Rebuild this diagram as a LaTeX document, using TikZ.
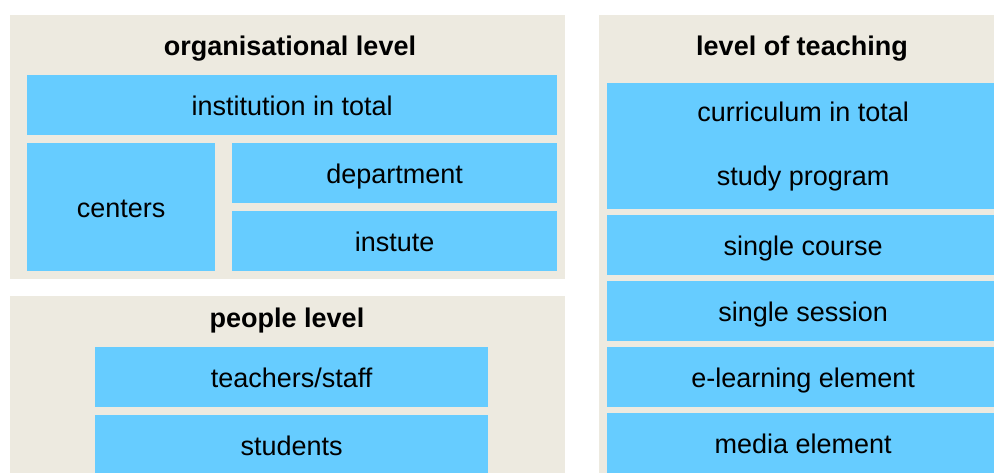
\documentclass[tikz,border=0pt]{standalone}
\usepackage{fontspec}
\setmainfont{Liberation Sans}

\definecolor{panelbg}{RGB}{237,234,224}
\definecolor{boxblue}{RGB}{102,204,255}

\tikzstyle{panel} = [rectangle, fill=panelbg, inner sep=0pt, anchor=north west]
\tikzstyle{unit} = [rectangle, fill=boxblue, inner sep=0pt, anchor=north west, align=center, text height=24pt, text depth=4pt, font=\fontsize{27}{32}\selectfont]
\tikzstyle{heading} = [inner sep=0pt, font=\fontsize{27}{32}\selectfont\bfseries]

\begin{document}
\begin{tikzpicture}[x=1pt, y=-1pt]
        \useasboundingbox (0,0) rectangle (994,473);
        % background panels
        \node (orgpanel) at (10,15) [panel, minimum width=555pt, minimum height=264pt] {};
        \node (peoplepanel) at (10,296) [panel, minimum width=555pt, minimum height=177pt] {};
        \node (teachpanel) at (599,15) [panel, minimum width=408pt, minimum height=458pt] {};
        % panel headings
        \node (orgtitle) at (290,49) [heading] {organisational level};
        \node (peopletitle) at (287,321) [heading] {people level};
        \node (teachtitle) at (802,49) [heading] {level of teaching};
        % organisational level
        \node (inst) at (27,75) [unit, minimum width=530pt, minimum height=60pt] {institution in total};
        \node (centers) at (27,143) [unit, minimum width=188pt, minimum height=128pt] {centers};
        \node (dept) at (232,143) [unit, minimum width=325pt, minimum height=60pt] {department};
        \node (instute) at (232,211) [unit, minimum width=325pt, minimum height=60pt] {instute};
        % people level
        \node (staff) at (95,347) [unit, minimum width=393pt, minimum height=60pt] {teachers/staff};
        \node (students) at (95,415) [unit, minimum width=393pt, minimum height=60pt] {students};
        % level of teaching
        \node (curriculum) at (607,83) [unit, text height=, text depth=, minimum width=392pt, minimum height=126pt] {curriculum in total\\[32pt]study program};
        \node (course) at (607,215) [unit, minimum width=392pt, minimum height=60pt] {single course};
        \node (session) at (607,281) [unit, minimum width=392pt, minimum height=60pt] {single session};
        \node (elearn) at (607,347) [unit, minimum width=392pt, minimum height=60pt] {e-learning element};
        \node (media) at (607,413) [unit, minimum width=392pt, minimum height=60pt] {media element};
    \end{tikzpicture}
\end{document}
